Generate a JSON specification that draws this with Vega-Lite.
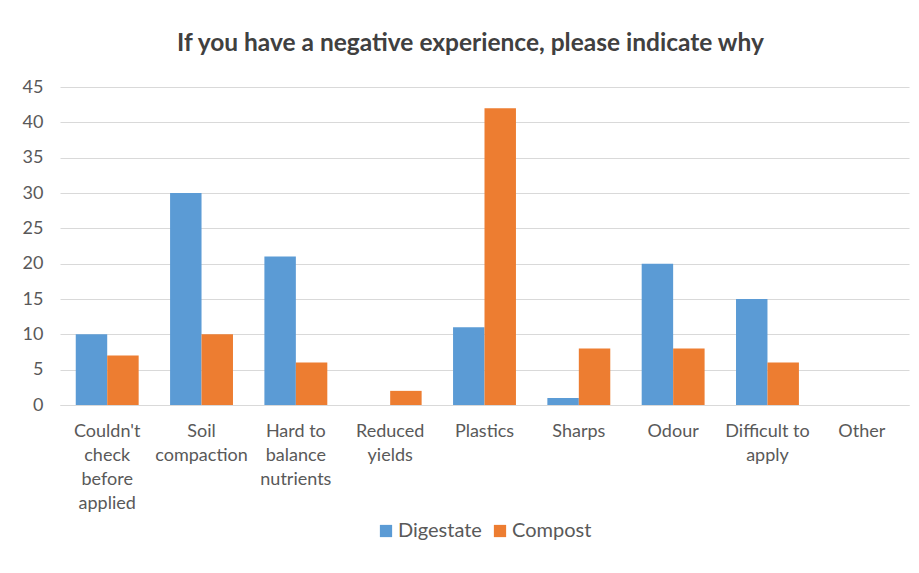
{
  "$schema": "https://vega.github.io/schema/vega-lite/v6.json",
  "autosize": {"type": "none"},
  "width": 849,
  "height": 318,
  "padding": {"left": 60, "top": 87, "right": 10, "bottom": 168},
  "background": "white",
  "title": {
    "text": "If you have a negative experience, please indicate why",
    "anchor": "middle",
    "frame": "group",
    "dx": -14,
    "offset": 22,
    "font": "Lato",
    "fontSize": 24.5,
    "fontWeight": "bold",
    "color": "#404040"
  },
  "data": {
    "values": [
      {"reason": "Couldn't check before applied", "series": "Digestate", "count": 10},
      {"reason": "Couldn't check before applied", "series": "Compost", "count": 7},
      {"reason": "Soil compaction", "series": "Digestate", "count": 30},
      {"reason": "Soil compaction", "series": "Compost", "count": 10},
      {"reason": "Hard to balance nutrients", "series": "Digestate", "count": 21},
      {"reason": "Hard to balance nutrients", "series": "Compost", "count": 6},
      {"reason": "Reduced yields", "series": "Digestate", "count": 0},
      {"reason": "Reduced yields", "series": "Compost", "count": 2},
      {"reason": "Plastics", "series": "Digestate", "count": 11},
      {"reason": "Plastics", "series": "Compost", "count": 42},
      {"reason": "Sharps", "series": "Digestate", "count": 1},
      {"reason": "Sharps", "series": "Compost", "count": 8},
      {"reason": "Odour", "series": "Digestate", "count": 20},
      {"reason": "Odour", "series": "Compost", "count": 8},
      {"reason": "Difficult to apply", "series": "Digestate", "count": 15},
      {"reason": "Difficult to apply", "series": "Compost", "count": 6},
      {"reason": "Other", "series": "Digestate", "count": 0},
      {"reason": "Other", "series": "Compost", "count": 0}
    ]
  },
  "mark": {"type": "bar"},
  "encoding": {
    "x": {
      "field": "reason",
      "type": "nominal",
      "sort": null,
      "scale": {"paddingInner": 0.333, "paddingOuter": 0.167},
      "axis": {
        "title": null,
        "labelAngle": 0,
        "labelFont": "Lato",
        "labelFontSize": 18,
        "labelColor": "#595959",
        "labelPadding": 17,
        "labelBaseline": "top",
        "labelLineHeight": 24,
        "labelLimit": 200,
        "ticks": false,
        "domain": true,
        "domainColor": "#D9D9D9",
        "grid": false,
        "labelExpr": "datum.label == 'Hard to balance nutrients' ? ['Hard to', 'balance', 'nutrients'] : datum.label == 'Difficult to apply' ? ['Difficult to', 'apply'] : split(datum.label, ' ')"
      }
    },
    "xOffset": {"field": "series", "type": "nominal", "sort": ["Digestate", "Compost"]},
    "y": {
      "field": "count",
      "type": "quantitative",
      "scale": {"domain": [0, 45], "nice": false},
      "axis": {
        "title": null,
        "values": [0, 5, 10, 15, 20, 25, 30, 35, 40, 45],
        "labelFont": "Lato",
        "labelFontSize": 18,
        "labelColor": "#595959",
        "labelPadding": 17,
        "ticks": false,
        "domain": false,
        "grid": true,
        "gridColor": "#D9D9D9",
        "gridWidth": 1
      }
    },
    "color": {
      "field": "series",
      "type": "nominal",
      "sort": ["Digestate", "Compost"],
      "scale": {"domain": ["Digestate", "Compost"], "range": ["#5B9BD5", "#ED7D31"]},
      "legend": {
        "title": null,
        "orient": "none",
        "direction": "horizontal",
        "legendX": 316,
        "legendY": 434,
        "symbolType": "square",
        "symbolSize": 150,
        "symbolStrokeWidth": 0,
        "labelFont": "Lato",
        "labelFontSize": 20,
        "labelColor": "#595959",
        "labelOffset": 2,
        "columnPadding": 8
      }
    }
  },
  "config": {
    "view": {"stroke": null}
  }
}
